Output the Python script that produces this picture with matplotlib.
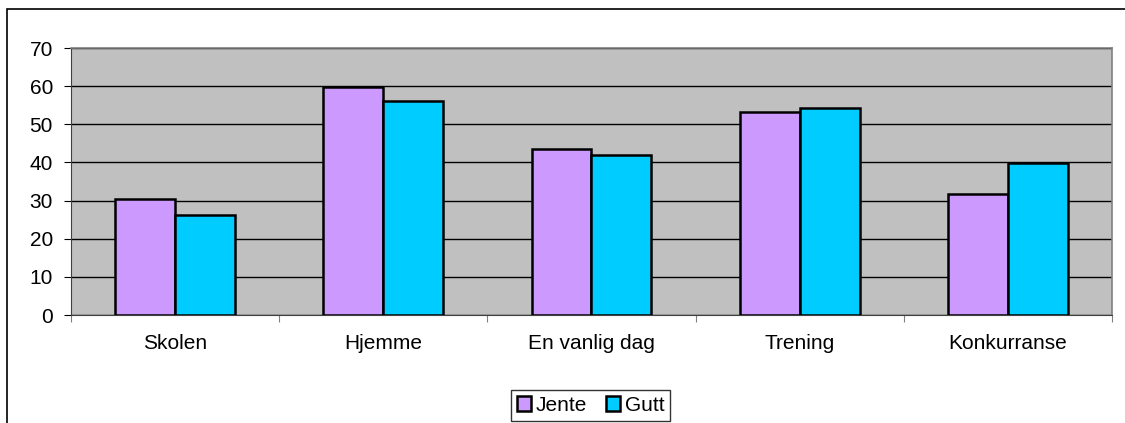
import matplotlib.pyplot as plt
import matplotlib.patches as mpatches
import numpy as np

plt.rcParams['font.family'] = ['Liberation Sans', 'DejaVu Sans']

categories = ['Skolen', 'Hjemme', 'En vanlig dag', 'Trening', 'Konkurranse']
jente = [30.5, 59.9, 43.6, 53.1, 31.7]
gutt = [26.2, 56.2, 42.0, 54.4, 39.8]

fig = plt.figure(figsize=(11.25, 4.23), dpi=100)
ax = fig.add_axes([0.0631, 0.2553, 0.9253, 0.6312])

x = np.arange(len(categories))
w = 0.288
ax.bar(x - w/2, jente, w, color='#CC99FF', edgecolor='black', linewidth=1.8, label='Jente', zorder=3)
ax.bar(x + w/2, gutt, w, color='#00CCFF', edgecolor='black', linewidth=1.8, label='Gutt', zorder=3)

ax.set_facecolor('#C0C0C0')
ax.set_xlim(-0.5, len(categories) - 0.5)
ax.set_ylim(0, 70)
ax.set_yticks(range(0, 71, 10))
ax.yaxis.grid(True, color='black', linewidth=1)
ax.set_axisbelow(True)

# category boundaries as ticks, labels at centers
ax.set_xticks(np.arange(-0.5, len(categories), 1))
ax.set_xticklabels([])
ax.set_xticks(x, minor=True)
ax.set_xticklabels(categories, minor=True)
ax.tick_params(axis='x', which='minor', length=0, pad=14, labelsize=15)
ax.tick_params(axis='x', which='major', length=5, color='#808080')
ax.tick_params(axis='y', length=5, labelsize=15, pad=8)

for s in ['top', 'right']:
    ax.spines[s].set_color('#808080')
    ax.spines[s].set_linewidth(1.2)
ax.spines['left'].set_color('#404040')
ax.spines['bottom'].set_color('#404040')

leg = fig.legend(loc='lower center', bbox_to_anchor=(0.5249, 2/423), ncol=2,
                 fontsize=15, frameon=True, fancybox=False, handlelength=0.7,
                 handleheight=0.7, handletextpad=0.2, columnspacing=0.9,
                 borderpad=0.3, borderaxespad=0)
leg.get_frame().set_edgecolor('black')
leg.get_frame().set_linewidth(1)

# outer chart border
fig.patches.append(mpatches.Rectangle((7/1125, -0.1), 1.2, (423-9)/423 + 0.1,
                                      transform=fig.transFigure, fill=False,
                                      edgecolor='black', linewidth=1.2))

fig.savefig('out.png', dpi=100)
